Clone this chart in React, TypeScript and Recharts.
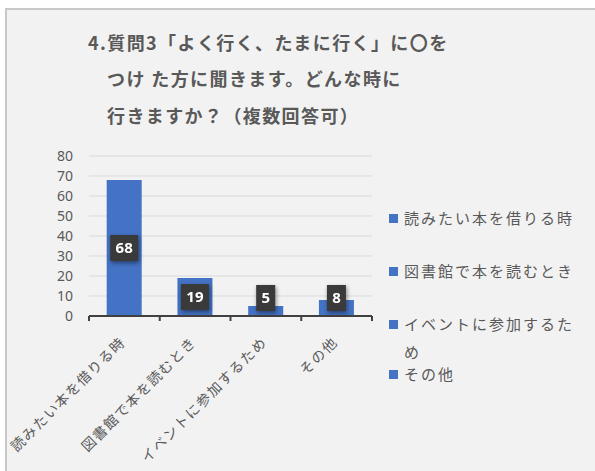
import React from 'react';
import { BarChart, Bar, XAxis, YAxis, CartesianGrid, LabelList } from 'recharts';

const categories = ['読みたい本を借りる時', '図書館で本を読むとき', 'イベントに参加するため', 'その他'];
const counts = [68, 19, 5, 8];
const yTicks = [0, 10, 20, 30, 40, 50, 60, 70, 80];
const titleLines = ['4.質問3「よく行く、たまに行く」に〇を', 'つけ た方に聞きます。どんな時に', '行きますか？（複数回答可）'];

const data = categories.map((name, i) => ({ name, value: counts[i] }));

const BAR_COLOR = '#4472C4';
const TEXT = '#595959';
const CJK = '"Noto Sans CJK JP", "Noto Sans", sans-serif';

const titleLayout = [
  { left: 88, top: 30 },
  { left: 107, top: 66 },
  { left: 107, top: 103 },
];
const legendTops = [204, 257, 310, 360];

const XTick = (props: any) => {
  const { x, y, payload, index, width, visibleTicksCount } = props;
  const count = visibleTicksCount || categories.length;
  const half = width / count / 2;
  return (
    <g>
      {index === 0 && (
        <line x1={x - half} x2={x - half} y1={y} y2={y + 5} stroke="#404040" strokeWidth={2} />
      )}
      <line x1={x + half} x2={x + half} y1={y} y2={y + 5} stroke="#404040" strokeWidth={2} />
      <text
        transform={`translate(${x + 2},${y + 27}) rotate(-45)`}
        textAnchor="end"
        fill={TEXT}
        fontSize={14}
        letterSpacing={1.5}
        fontFamily={CJK}
      >
        {payload.value}
      </text>
    </g>
  );
};

const BoxLabel = (props: any) => {
  const { x, y, width, height, value } = props;
  const cx = x + width / 2;
  const base = y + height;
  const cy = Math.min(y + height / 2, base - 18);
  const s = String(value);
  const w = 10 + s.length * 9;
  return (
    <g style={{ filter: 'drop-shadow(1px 2px 2px rgba(0,0,0,0.45))' }}>
      <rect x={cx - w / 2} y={cy - 13} width={w} height={26} fill="#3a3a3a" />
      <text
        x={cx}
        y={cy}
        dy="0.36em"
        textAnchor="middle"
        fill="#ffffff"
        fontWeight="bold"
        fontSize={15}
        fontFamily='"Noto Sans", sans-serif'
      >
        {s}
      </text>
    </g>
  );
};

export default function App() {
  return (
    <div style={{ position: 'absolute', left: 0, top: 0, width: 595, height: 471, overflow: 'hidden', background: '#ffffff' }}>
      <div
        style={{
          position: 'absolute',
          left: 5,
          top: 8,
          width: 600,
          height: 480,
          background: '#f2f2f2',
          borderTop: '2px solid #c8c8c8',
          borderLeft: '2px solid #c8c8c8',
          boxSizing: 'border-box',
        }}
      />
      {titleLines.map((t, i) => (
        <div
          key={i}
          style={{
            position: 'absolute',
            left: titleLayout[i].left,
            top: titleLayout[i].top,
            lineHeight: '24px',
            fontSize: 18,
            fontWeight: 'bold',
            letterSpacing: 1.4,
            color: TEXT,
            fontFamily: CJK,
            whiteSpace: 'nowrap',
          }}
        >
          {t}
        </div>
      ))}
      <div style={{ position: 'absolute', left: 0, top: 0 }}>
        <BarChart
          width={595}
          height={471}
          data={data}
          margin={{ top: 156, right: 223, left: 29, bottom: 0 }}
          barCategoryGap="25%"
        >
          <CartesianGrid vertical={false} stroke="#d9d9d9" strokeWidth={1} />
          <XAxis
            dataKey="name"
            height={155}
            interval={0}
            tickLine={false}
            tickSize={0}
            tickMargin={0}
            axisLine={{ stroke: '#404040', strokeWidth: 2 }}
            tick={<XTick />}
          />
          <YAxis
            width={60}
            domain={[0, 80]}
            ticks={yTicks}
            interval={0}
            axisLine={false}
            tickLine={false}
            tickSize={0}
            tickMargin={16}
            tick={{ fill: TEXT, fontSize: 14, fontFamily: '"Noto Sans", sans-serif' }}
          />
          <Bar dataKey="value" fill={BAR_COLOR} isAnimationActive={false}>
            <LabelList dataKey="value" content={<BoxLabel />} />
          </Bar>
        </BarChart>
      </div>
      {categories.map((c, i) => (
        <div
          key={c}
          style={{
            position: 'absolute',
            left: 389,
            top: legendTops[i],
            width: 200,
            display: 'flex',
            alignItems: 'flex-start',
          }}
        >
          <div style={{ width: 9, height: 9, background: BAR_COLOR, marginTop: 10, marginRight: 6, flexShrink: 0 }} />
          <div
            style={{
              width: 180,
              lineHeight: '28px',
              fontSize: 15,
              letterSpacing: 2,
              color: TEXT,
              fontFamily: CJK,
            }}
          >
            {c}
          </div>
        </div>
      ))}
    </div>
  );
}
